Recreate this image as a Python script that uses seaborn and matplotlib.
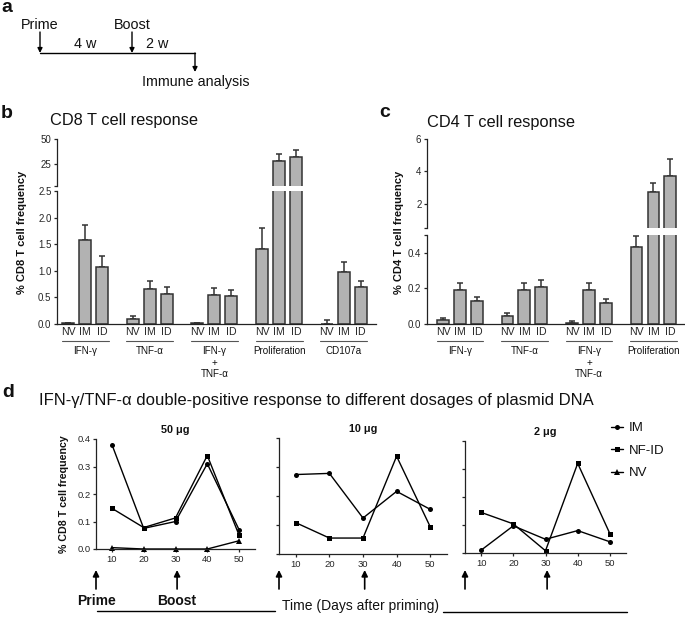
import numpy as np
import pandas as pd
import matplotlib
matplotlib.use("Agg")
import matplotlib.pyplot as plt
import matplotlib.transforms as mtrans
import seaborn as sns

sns.set_style("ticks")
plt.rcParams['font.family'] = ['Liberation Sans', 'DejaVu Sans']
plt.rcParams['axes.linewidth'] = 0.9
plt.rcParams['xtick.major.width'] = 0.9
plt.rcParams['ytick.major.width'] = 0.9
plt.rcParams['xtick.major.size'] = 2.5
plt.rcParams['ytick.major.size'] = 2.5
plt.rcParams['axes.edgecolor'] = '#222222'
plt.rcParams['text.color'] = '#111111'

W, H = 685, 622

routes = ["NV", "IM", "ID"]

# panel b - CD8
cd8_groups = ["IFN-γ", "TNF-α", "IFN-γ\n+\nTNF-α", "Proliferation", "CD107a"]
cd8_mean = [[0.01, 1.57, 1.07], [0.10, 0.66, 0.57], [0.01, 0.55, 0.52],
            [1.41, 27.8, 31.8], [0.0, 0.98, 0.69]]
cd8_err = [[0.0, 0.29, 0.20], [0.05, 0.14, 0.12], [0.0, 0.13, 0.12],
           [0.40, 7.0, 7.1], [0.075, 0.18, 0.12]]

# panel c - CD4
cd4_groups = ["IFN-γ", "TNF-α", "IFN-γ\n+\nTNF-α", "Proliferation"]
cd4_mean = [[0.023, 0.19, 0.13], [0.047, 0.19, 0.21], [0.008, 0.19, 0.12],
            [0.435, 2.75, 3.74]]
cd4_err = [[0.012, 0.04, 0.02], [0.013, 0.04, 0.04], [0.007, 0.04, 0.02],
           [0.058, 0.55, 1.03]]

# panel d - time course
days = [10, 20, 30, 40, 50]
doses = ["50 μg", "10 μg", "2 μg"]
im_vals = [[0.38, 0.075, 0.10, 0.31, 0.07],
           [0.274, 0.278, 0.124, 0.216, 0.154],
           [0.01, 0.097, 0.049, 0.08, 0.04]]
nfid_vals = [[0.148, 0.078, 0.113, 0.34, 0.05],
             [0.108, 0.055, 0.055, 0.337, 0.094],
             [0.145, 0.104, 0.008, 0.32, 0.069]]
nv_50 = [0.005, 0.0, 0.0, 0.0, 0.03]

BAR = '#b2b2b2'
EDGE = '#333333'
STEP = 3.8

fig = plt.figure(figsize=(W / 100, H / 100), dpi=100)


def pax(x0, y0, x1, y1):
    # axes from a pixel box (top-left origin)
    return fig.add_axes([x0 / W, 1 - y1 / H, (x1 - x0) / W, (y1 - y0) / H])


def bar_panel(lo_box, hi_box, groups, mean, err, lo_lim, hi_lim, xlim,
              lo_ticks, lo_labels, hi_ticks, hi_labels):
    rows = []
    for g, name in enumerate(groups):
        for i, r in enumerate(routes):
            rows.append(dict(pos=g * STEP + i, val=mean[g][i], err=err[g][i],
                             route=r, group=name))
    df = pd.DataFrame(rows)
    ax_lo = pax(*lo_box)
    ax_hi = pax(*hi_box)
    tall = df[df['val'] > lo_lim[1]]
    for ax, sub in ((ax_lo, df), (ax_hi, tall)):
        sns.barplot(data=df, x='pos', y='val', native_scale=True, orient='x',
                    width=0.7, color=BAR, saturation=1, edgecolor=EDGE,
                    linewidth=1.1, errorbar=None, ax=ax, zorder=2)
        ax.errorbar(sub['pos'], sub['val'], yerr=[np.zeros(len(sub)), sub['err']],
                    fmt='none', ecolor=EDGE, elinewidth=1.1, capsize=2.3,
                    capthick=1.1, zorder=1)
        ax.set_xlim(*xlim)
        ax.set_xlabel('')
        ax.set_ylabel('')
        ax.set_facecolor('none')
        for s in ('top', 'right'):
            ax.spines[s].set_visible(False)
        ax.tick_params(axis='y', labelsize=7, pad=1.5)
    ax_lo.set_ylim(*lo_lim)
    ax_hi.set_ylim(*hi_lim)
    ax_lo.set_yticks(lo_ticks)
    ax_lo.set_yticklabels(lo_labels)
    ax_hi.set_yticks(hi_ticks)
    ax_hi.set_yticklabels(hi_labels)
    ax_hi.spines['bottom'].set_visible(False)
    ax_hi.set_xticks([])
    ax_lo.set_xticks(df['pos'])
    ax_lo.set_xticklabels(df['route'], fontsize=7.6)
    ax_lo.tick_params(axis='x', length=0, pad=2.5)

    tr = mtrans.blended_transform_factory(ax_lo.transData, fig.transFigure)
    for g, name in enumerate(groups):
        p = df.loc[df['group'] == name, 'pos']
        ax_lo.plot([p.min() - 0.38, p.max() + 0.38], [1 - 341 / H] * 2,
                   color='#555555', lw=0.8, transform=tr, clip_on=False)
        ax_lo.text(p.mean(), 1 - 346 / H, name, transform=tr, ha='center',
                   va='top', fontsize=7.1, linespacing=1.2)
    return ax_lo, ax_hi


# panel b
bar_panel((57, 191, 376, 324), (57, 139, 376, 186), cd8_groups, cd8_mean,
          cd8_err, (0, 2.5), (2.5, 50), (-0.65, 18.1),
          [0, 0.5, 1.0, 1.5, 2.0, 2.5], ['0.0', '0.5', '1.0', '1.5', '2.0', '2.5'],
          [2.5, 25, 50], ['', '25', '50'])

# panel c
bar_panel((427, 235, 684, 324), (427, 139, 684, 228), cd4_groups, cd4_mean,
          cd4_err, (0, 0.5), (0.5, 6), (-0.94, 14.2),
          [0, 0.2, 0.4, 0.5], ['0.0', '0.2', '0.4', ''],
          [0.5, 2, 4, 6], ['', '2', '4', '6'])

# panel d
d_boxes = [(96, 439, 255, 549), (279, 438, 447, 554), (465, 441, 626, 553)]
d_axes = []
for k, box in enumerate(d_boxes):
    ax = pax(*box)
    sns.lineplot(x=days, y=im_vals[k], ax=ax, color='k', lw=1, marker='o',
                 markersize=3.6, markeredgewidth=0, label='IM', clip_on=False)
    sns.lineplot(x=days, y=nfid_vals[k], ax=ax, color='k', lw=1, marker='s',
                 markersize=3.6, markeredgewidth=0, label='NF-ID', clip_on=False)
    if k == 0:
        sns.lineplot(x=days, y=nv_50, ax=ax, color='k', lw=1, marker='^',
                     markersize=4, markeredgewidth=0, label='NV', clip_on=False)
    if ax.get_legend() is not None:
        ax.get_legend().remove()
    ax.set_xlim(5, 55)
    ax.set_ylim(0, 0.4)
    ax.set_xticks(days)
    ax.set_yticks([0, 0.1, 0.2, 0.3, 0.4])
    if k == 0:
        ax.set_yticklabels(['0.0', '0.1', '0.2', '0.3', '0.4'])
    else:
        ax.set_yticklabels([])
    ax.tick_params(labelsize=6.8, pad=1.5)
    ax.set_facecolor('none')
    for s in ('top', 'right'):
        ax.spines[s].set_visible(False)
    ax.set_title(doses[k], fontsize=7.8, fontweight='bold', pad=4)
    # prime / boost arrows
    for d in (5, 30.5):
        ax.annotate('', xy=(d, 1 - 570 / H), xytext=(d, 1 - 589 / H),
                    xycoords=('data', 'figure fraction'),
                    textcoords=('data', 'figure fraction'),
                    arrowprops=dict(arrowstyle='-|>', color='k', lw=1.2,
                                    mutation_scale=9, shrinkA=0, shrinkB=0),
                    annotation_clip=False)
    d_axes.append(ax)

tr0 = mtrans.blended_transform_factory(d_axes[0].transData, fig.transFigure)
d_axes[0].text(5, 1 - 601 / H, 'Prime', transform=tr0, ha='center', va='center',
               fontsize=10, fontweight='bold')
d_axes[0].text(30.5, 1 - 601 / H, 'Boost', transform=tr0, ha='center',
               va='center', fontsize=10, fontweight='bold')

handles, labels = d_axes[0].get_legend_handles_labels()
fig.legend(handles, labels, loc='upper left', bbox_to_anchor=(611 / W, 1 - 422 / H),
           frameon=False, fontsize=9.5, handlelength=0.9, handletextpad=0.45,
           labelspacing=0.78, borderpad=0, borderaxespad=0)

# overlay for panel a, titles and labels (pixel coords)
ov = fig.add_axes([0, 0, 1, 1])
ov.set_xlim(0, W)
ov.set_ylim(H, 0)
ov.axis('off')

arrow = dict(arrowstyle='-|>', color='k', lw=1, mutation_scale=7, shrinkA=0, shrinkB=0)
ov.plot([40, 195], [53, 53], color='k', lw=1)
ov.annotate('', xy=(40, 53), xytext=(40, 32), arrowprops=arrow)
ov.annotate('', xy=(132, 53), xytext=(132, 32), arrowprops=arrow)
ov.annotate('', xy=(195, 72), xytext=(195, 53), arrowprops=arrow)
ov.text(40, 25, 'Prime', ha='center', va='center', fontsize=10.4)
ov.text(132, 25, 'Boost', ha='center', va='center', fontsize=10.4)
ov.text(85, 44, '4 w', ha='center', va='center', fontsize=10.4)
ov.text(157, 44, '2 w', ha='center', va='center', fontsize=10.4)
ov.text(196, 82, 'Immune analysis', ha='center', va='center', fontsize=10.3)

ov.text(1, 12, 'a', fontsize=14, fontweight='bold', va='baseline')
ov.text(1, 118, 'b', fontsize=14, fontweight='bold', va='baseline')
ov.text(379, 117, 'c', fontsize=14, fontweight='bold', va='baseline')
ov.text(2, 397, 'd', fontsize=14, fontweight='bold', va='baseline')

ov.text(50, 121, 'CD8 T cell response', fontsize=11.8, va='center')
ov.text(427, 122, 'CD4 T cell response', fontsize=11.8, va='center')
ov.text(39, 400, 'IFN-γ/TNF-α double-positive response to different dosages of plasmid DNA',
        fontsize=12, va='center')

ov.text(22, 232, '% CD8 T cell frequency', rotation=90, fontsize=8,
        fontweight='bold', ha='center', va='center')
ov.text(399, 232, '% CD4 T cell frequency', rotation=90, fontsize=8,
        fontweight='bold', ha='center', va='center')
ov.text(64, 494, '% CD8 T cell frequency', rotation=90, fontsize=7.7,
        fontweight='bold', ha='center', va='center')

ov.plot([97, 275], [611, 611], color='k', lw=1)
ov.plot([443, 627], [612, 612], color='k', lw=1)
ov.text(361, 606, 'Time (Days after priming)', ha='center', va='center', fontsize=10)

fig.savefig('out.png', dpi=100)
